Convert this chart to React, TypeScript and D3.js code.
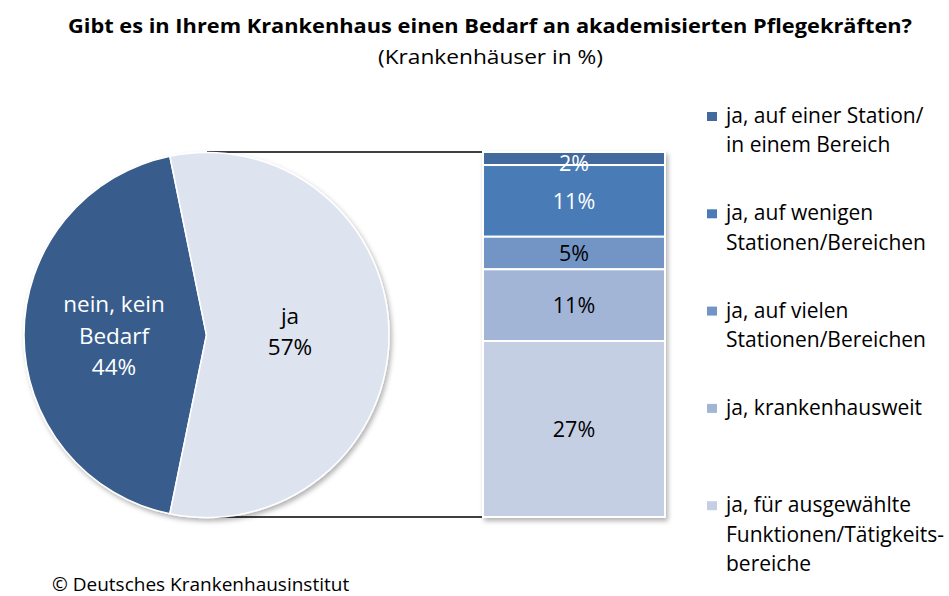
import React from "react";
import * as d3 from "d3";

const pieLabels = [["nein, kein", "Bedarf", "44%"], ["ja", "57%"]];
const pieValues = [44, 57];
const pieColors = ["#395c8b", "#dde3ef"];
const pieTextColors = ["#ffffff", "#000000"];

const barValues = [2, 11, 5, 11, 27];
const barLabels = ["2%", "11%", "5%", "11%", "27%"];
const barColors = ["#426a9f", "#4a7bb7", "#7395c6", "#a2b5d7", "#c4cfe4"];
const barTextColors = ["#ffffff", "#ffffff", "#000000", "#000000", "#000000"];
const legendLabels = [
  ["ja, auf einer Station/", "in einem Bereich"],
  ["ja, auf wenigen", "Stationen/Bereichen"],
  ["ja, auf vielen", "Stationen/Bereichen"],
  ["ja, krankenhausweit"],
  ["ja, für ausgewählte", "Funktionen/Tätigkeits-", "bereiche"],
];

const FONT = "'Open Sans', sans-serif";

export default function App() {
  const W = 949, H = 596;
  const cx = 206.5, cy = 335, r = 182.5;
  const total = d3.sum(pieValues);
  const half = (pieValues[0] / total) * Math.PI;
  const pie = d3.pie<number>().sort(null).startAngle(-Math.PI / 2 - half).endAngle(-Math.PI / 2 - half + 2 * Math.PI);
  const arcs = pie(pieValues);
  const arc = d3.arc<d3.PieArcDatum<number>>().innerRadius(0).outerRadius(r);

  const barX0 = 483, barX1 = 665, barTop = 152, barBot = 517;
  const yScale = d3.scaleLinear().domain([0, d3.sum(barValues)]).range([barTop, barBot]);
  let acc = 0;
  const segs = barValues.map((v, i) => {
    const s = { y0: yScale(acc), y1: yScale(acc + v), i };
    acc += v;
    return s;
  });

  const labelPos = [
    { x: 114, y: 312 },
    { x: 290, y: 323.5 },
  ];

  const legendY = d3.range(legendLabels.length).map((i) => 123 + i * 97.3);

  return (
    <svg width={W} height={H} style={{ position: "absolute", left: 0, top: 0 }} fontFamily={FONT}>
      <defs>
        <filter id="sh" x="-10%" y="-10%" width="130%" height="130%">
          <feDropShadow dx="2" dy="3" stdDeviation="2.5" floodColor="#000" floodOpacity="0.3" />
        </filter>
      </defs>
      <text x={490} y={33} textAnchor="middle" fontWeight="bold" fontSize={20} textLength={844} lengthAdjust="spacingAndGlyphs">
        Gibt es in Ihrem Krankenhaus einen Bedarf an akademisierten Pflegekräften?
      </text>
      <text x={490.5} y={64} textAnchor="middle" fontSize={20.5} textLength={225} lengthAdjust="spacingAndGlyphs">
        (Krankenhäuser in %)
      </text>

      <line x1={207} y1={barTop} x2={barX0} y2={barTop} stroke="#000" strokeWidth={1.5} />
      <line x1={207} y1={barBot} x2={barX0} y2={barBot} stroke="#000" strokeWidth={1.5} />

      <g filter="url(#sh)" transform={`translate(${cx},${cy})`}>
        {arcs.map((a, i) => (
          <path key={i} d={arc(a) || ""} fill={pieColors[i]} stroke="#fff" strokeWidth={1.5} />
        ))}
      </g>
      {pieLabels.map((lines, i) => (
        <text key={i} textAnchor="middle" fontSize={22.5} fill={pieTextColors[i]}>
          {lines.map((l, j) => (
            <tspan key={j} x={labelPos[i].x} y={labelPos[i].y + j * 31.5}>{l}</tspan>
          ))}
        </text>
      ))}

      <g filter="url(#sh)">
        {segs.map((s) => (
          <rect key={s.i} x={barX0} y={s.y0} width={barX1 - barX0} height={s.y1 - s.y0} fill={barColors[s.i]} stroke="#fff" strokeWidth={2} />
        ))}
      </g>
      {segs.map((s) => {
        const h = s.y1 - s.y0;
        const by = h < 20 ? s.y0 + 19 : (s.y0 + s.y1) / 2 + 8;
        return (
          <text key={s.i} x={(barX0 + barX1) / 2} y={by} textAnchor="middle" fontSize={21.5} fill={barTextColors[s.i]}>
            {barLabels[s.i]}
          </text>
        );
      })}

      {legendLabels.map((lines, i) => (
        <g key={i}>
          <rect x={707} y={legendY[i] - 11} width={10} height={9} fill={barColors[i]} />
          <text fontSize={21} fill="#000">
            {lines.map((l, j) => (
              <tspan key={j} x={726} y={legendY[i] + j * 29.3}>{l}</tspan>
            ))}
          </text>
        </g>
      ))}

      <text x={52} y={591} fontSize={19} fill="#000">© Deutsches Krankenhausinstitut</text>
    </svg>
  );
}
